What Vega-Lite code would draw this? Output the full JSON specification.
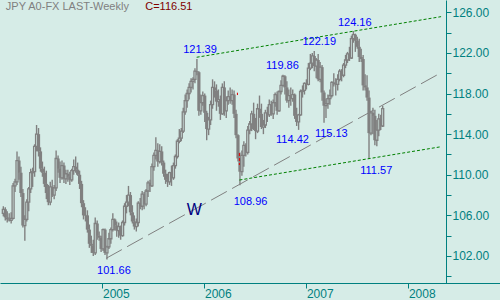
{
"$schema": "https://vega.github.io/schema/vega-lite/v6.json",
"width": 500, "height": 283,
"autosize": {"type": "none"},
"padding": {"left": 0, "top": 0, "right": 0, "bottom": 17},
"background": "#d6ece7",
"config": {"view": {"stroke": null}, "font": "Liberation Sans", "text": {"font": "Liberation Sans"}},
"resolve": {"axis": {"y": "independent"}},
"datasets": {
"ohlc": [
{"d":"2004-01-12","o":106.2,"h":106.9,"l":105.9,"c":106.6},
{"d":"2004-01-19","o":106.6,"h":106.8,"l":105.5,"c":105.8},
{"d":"2004-01-26","o":105.8,"h":106.4,"l":105.3,"c":105.6},
{"d":"2004-02-02","o":105.6,"h":106.2,"l":105.4,"c":105.5},
{"d":"2004-02-09","o":105.5,"h":106.3,"l":105.2,"c":105.7},
{"d":"2004-02-16","o":105.7,"h":109.2,"l":105.6,"c":108.9},
{"d":"2004-02-23","o":108.9,"h":109.6,"l":108.3,"c":109.3},
{"d":"2004-03-01","o":109.3,"h":112.3,"l":109.0,"c":111.4},
{"d":"2004-03-08","o":111.4,"h":111.8,"l":109.5,"c":110.2},
{"d":"2004-03-15","o":110.2,"h":110.8,"l":107.8,"c":108.2},
{"d":"2004-03-22","o":108.2,"h":108.6,"l":104.8,"c":105.0},
{"d":"2004-03-29","o":105.0,"h":106.0,"l":103.5,"c":105.6},
{"d":"2004-04-05","o":105.6,"h":107.6,"l":105.4,"c":107.3},
{"d":"2004-04-12","o":107.3,"h":108.8,"l":106.4,"c":108.6},
{"d":"2004-04-19","o":108.6,"h":110.6,"l":108.2,"c":110.2},
{"d":"2004-04-26","o":110.2,"h":110.7,"l":108.8,"c":110.3},
{"d":"2004-05-03","o":110.3,"h":113.0,"l":109.8,"c":112.8},
{"d":"2004-05-10","o":112.8,"h":114.9,"l":112.3,"c":114.0},
{"d":"2004-05-17","o":114.0,"h":114.6,"l":111.8,"c":112.3},
{"d":"2004-05-24","o":112.3,"h":112.7,"l":110.3,"c":110.6},
{"d":"2004-05-31","o":110.6,"h":111.3,"l":109.8,"c":110.2},
{"d":"2004-06-07","o":110.2,"h":110.8,"l":108.8,"c":109.1},
{"d":"2004-06-14","o":109.1,"h":110.4,"l":107.6,"c":108.2},
{"d":"2004-06-21","o":108.2,"h":109.0,"l":107.0,"c":107.3},
{"d":"2004-06-28","o":107.3,"h":109.3,"l":107.0,"c":108.8},
{"d":"2004-07-05","o":108.8,"h":109.5,"l":107.8,"c":108.0},
{"d":"2004-07-12","o":108.0,"h":109.0,"l":107.6,"c":108.7},
{"d":"2004-07-19","o":108.7,"h":112.4,"l":108.4,"c":111.6},
{"d":"2004-07-26","o":111.6,"h":111.9,"l":110.2,"c":110.6},
{"d":"2004-08-02","o":110.6,"h":111.3,"l":109.2,"c":109.7},
{"d":"2004-08-09","o":109.7,"h":111.4,"l":109.5,"c":110.9},
{"d":"2004-08-16","o":110.9,"h":111.2,"l":109.2,"c":109.6},
{"d":"2004-08-23","o":109.6,"h":110.5,"l":109.1,"c":110.1},
{"d":"2004-08-30","o":110.1,"h":110.5,"l":109.3,"c":109.8},
{"d":"2004-09-06","o":109.8,"h":110.3,"l":109.0,"c":109.5},
{"d":"2004-09-13","o":109.5,"h":110.6,"l":109.3,"c":110.4},
{"d":"2004-09-20","o":110.4,"h":111.5,"l":110.0,"c":110.8},
{"d":"2004-09-27","o":110.8,"h":111.8,"l":110.2,"c":110.5},
{"d":"2004-10-04","o":110.5,"h":111.2,"l":109.9,"c":110.0},
{"d":"2004-10-11","o":110.0,"h":110.4,"l":108.6,"c":109.1},
{"d":"2004-10-18","o":109.1,"h":109.4,"l":106.8,"c":107.2},
{"d":"2004-10-25","o":107.2,"h":107.5,"l":105.6,"c":106.0},
{"d":"2004-11-01","o":106.0,"h":106.8,"l":105.4,"c":106.0},
{"d":"2004-11-08","o":106.0,"h":106.5,"l":104.3,"c":104.6},
{"d":"2004-11-15","o":104.6,"h":105.1,"l":102.8,"c":103.2},
{"d":"2004-11-22","o":103.2,"h":104.0,"l":102.3,"c":103.0},
{"d":"2004-11-29","o":103.0,"h":103.6,"l":102.0,"c":102.3},
{"d":"2004-12-06","o":102.3,"h":105.8,"l":102.1,"c":105.2},
{"d":"2004-12-13","o":105.2,"h":105.5,"l":103.6,"c":104.0},
{"d":"2004-12-20","o":104.0,"h":104.4,"l":103.5,"c":103.8},
{"d":"2004-12-27","o":103.8,"h":104.0,"l":102.4,"c":102.7},
{"d":"2005-01-03","o":102.7,"h":104.7,"l":102.5,"c":104.6},
{"d":"2005-01-10","o":104.6,"h":104.7,"l":102.1,"c":102.3},
{"d":"2005-01-17","o":102.3,"h":103.0,"l":101.66,"c":102.9},
{"d":"2005-01-24","o":102.9,"h":104.3,"l":102.7,"c":103.7},
{"d":"2005-01-31","o":103.7,"h":104.8,"l":103.2,"c":104.6},
{"d":"2005-02-07","o":104.6,"h":106.2,"l":104.4,"c":105.6},
{"d":"2005-02-14","o":105.6,"h":105.7,"l":104.5,"c":105.0},
{"d":"2005-02-21","o":105.0,"h":105.4,"l":103.9,"c":104.5},
{"d":"2005-02-28","o":104.5,"h":105.3,"l":103.8,"c":104.9},
{"d":"2005-03-07","o":104.9,"h":105.0,"l":103.6,"c":104.0},
{"d":"2005-03-14","o":104.0,"h":105.5,"l":103.9,"c":105.3},
{"d":"2005-03-21","o":105.3,"h":107.2,"l":105.0,"c":106.9},
{"d":"2005-03-28","o":106.9,"h":108.0,"l":106.2,"c":107.3},
{"d":"2005-04-04","o":107.3,"h":108.9,"l":106.9,"c":108.0},
{"d":"2005-04-11","o":108.0,"h":108.3,"l":106.0,"c":106.3},
{"d":"2005-04-18","o":106.3,"h":107.0,"l":105.2,"c":105.4},
{"d":"2005-04-25","o":105.4,"h":106.0,"l":104.6,"c":104.9},
{"d":"2005-05-02","o":104.9,"h":105.7,"l":104.4,"c":105.3},
{"d":"2005-05-09","o":105.3,"h":107.4,"l":104.9,"c":107.2},
{"d":"2005-05-16","o":107.2,"h":107.7,"l":106.6,"c":106.9},
{"d":"2005-05-23","o":106.9,"h":108.4,"l":106.5,"c":108.1},
{"d":"2005-05-30","o":108.1,"h":108.3,"l":106.6,"c":107.1},
{"d":"2005-06-06","o":107.1,"h":108.6,"l":106.9,"c":108.4},
{"d":"2005-06-13","o":108.4,"h":109.4,"l":107.8,"c":109.2},
{"d":"2005-06-20","o":109.2,"h":109.5,"l":108.3,"c":108.9},
{"d":"2005-06-27","o":108.9,"h":111.1,"l":108.8,"c":110.8},
{"d":"2005-07-04","o":110.8,"h":112.2,"l":110.4,"c":111.9},
{"d":"2005-07-11","o":111.9,"h":113.7,"l":111.5,"c":112.4},
{"d":"2005-07-18","o":112.4,"h":113.1,"l":110.8,"c":111.3},
{"d":"2005-07-25","o":111.3,"h":113.0,"l":111.1,"c":112.3},
{"d":"2005-08-01","o":112.3,"h":112.8,"l":110.9,"c":111.2},
{"d":"2005-08-08","o":111.2,"h":111.4,"l":109.8,"c":110.1},
{"d":"2005-08-15","o":110.1,"h":110.5,"l":109.1,"c":109.5},
{"d":"2005-08-22","o":109.5,"h":110.1,"l":108.8,"c":109.3},
{"d":"2005-08-29","o":109.3,"h":110.3,"l":109.0,"c":110.2},
{"d":"2005-09-05","o":110.2,"h":110.9,"l":108.9,"c":109.7},
{"d":"2005-09-12","o":109.7,"h":111.2,"l":109.5,"c":110.9},
{"d":"2005-09-19","o":110.9,"h":112.0,"l":110.6,"c":111.8},
{"d":"2005-09-26","o":111.8,"h":113.5,"l":111.6,"c":113.3},
{"d":"2005-10-03","o":113.3,"h":114.5,"l":113.1,"c":113.6},
{"d":"2005-10-10","o":113.6,"h":114.6,"l":113.3,"c":114.3},
{"d":"2005-10-17","o":114.3,"h":116.6,"l":114.1,"c":116.2},
{"d":"2005-10-24","o":116.2,"h":117.9,"l":115.9,"c":117.3},
{"d":"2005-10-31","o":117.3,"h":118.4,"l":116.6,"c":118.0},
{"d":"2005-11-07","o":118.0,"h":119.0,"l":117.4,"c":118.6},
{"d":"2005-11-14","o":118.6,"h":119.5,"l":118.1,"c":119.2},
{"d":"2005-11-21","o":119.2,"h":119.6,"l":118.4,"c":119.4},
{"d":"2005-11-28","o":119.4,"h":120.5,"l":119.0,"c":120.2},
{"d":"2005-12-05","o":120.2,"h":121.39,"l":119.8,"c":120.1},
{"d":"2005-12-12","o":120.1,"h":120.2,"l":115.8,"c":116.3},
{"d":"2005-12-19","o":116.3,"h":117.9,"l":115.9,"c":117.1},
{"d":"2005-12-26","o":117.1,"h":118.2,"l":116.8,"c":117.8},
{"d":"2006-01-02","o":117.8,"h":118.0,"l":115.2,"c":116.1},
{"d":"2006-01-09","o":116.1,"h":116.3,"l":113.4,"c":114.5},
{"d":"2006-01-16","o":114.5,"h":115.7,"l":113.9,"c":115.4},
{"d":"2006-01-23","o":115.4,"h":117.3,"l":114.9,"c":116.9},
{"d":"2006-01-30","o":116.9,"h":119.4,"l":116.5,"c":118.6},
{"d":"2006-02-06","o":118.6,"h":119.2,"l":117.6,"c":118.3},
{"d":"2006-02-13","o":118.3,"h":118.9,"l":116.3,"c":117.2},
{"d":"2006-02-20","o":117.2,"h":118.4,"l":116.7,"c":117.4},
{"d":"2006-02-27","o":117.4,"h":117.8,"l":115.4,"c":116.0},
{"d":"2006-03-06","o":116.0,"h":119.0,"l":115.9,"c":118.6},
{"d":"2006-03-13","o":118.6,"h":119.2,"l":115.8,"c":116.3},
{"d":"2006-03-20","o":116.3,"h":117.7,"l":115.6,"c":117.3},
{"d":"2006-03-27","o":117.3,"h":118.3,"l":116.9,"c":117.7},
{"d":"2006-04-03","o":117.7,"h":118.6,"l":117.0,"c":117.3},
{"d":"2006-04-10","o":117.3,"h":118.4,"l":116.9,"c":117.9},
{"d":"2006-04-17","o":117.9,"h":118.3,"l":115.6,"c":116.0},
{"d":"2006-04-24","o":116.0,"h":116.4,"l":113.6,"c":113.9},
{"d":"2006-05-01","o":113.9,"h":114.0,"l":111.3,"c":111.6},
{"d":"2006-05-08","o":111.6,"h":112.2,"l":108.96,"c":110.3},
{"d":"2006-05-15","o":110.3,"h":112.4,"l":109.9,"c":111.9},
{"d":"2006-05-22","o":111.9,"h":113.3,"l":110.8,"c":112.9},
{"d":"2006-05-29","o":112.9,"h":113.1,"l":111.8,"c":112.2},
{"d":"2006-06-05","o":112.2,"h":114.8,"l":112.0,"c":114.4},
{"d":"2006-06-12","o":114.4,"h":115.3,"l":114.0,"c":115.0},
{"d":"2006-06-19","o":115.0,"h":116.3,"l":114.3,"c":116.0},
{"d":"2006-06-26","o":116.0,"h":117.1,"l":114.4,"c":114.5},
{"d":"2006-07-03","o":114.5,"h":115.6,"l":113.5,"c":114.3},
{"d":"2006-07-10","o":114.3,"h":117.0,"l":114.1,"c":116.5},
{"d":"2006-07-17","o":116.5,"h":117.8,"l":115.6,"c":116.0},
{"d":"2006-07-24","o":116.0,"h":117.0,"l":114.5,"c":114.7},
{"d":"2006-07-31","o":114.7,"h":115.4,"l":114.0,"c":114.9},
{"d":"2006-08-07","o":114.9,"h":116.4,"l":114.6,"c":116.1},
{"d":"2006-08-14","o":116.1,"h":116.7,"l":115.2,"c":115.9},
{"d":"2006-08-21","o":115.9,"h":117.4,"l":115.7,"c":116.9},
{"d":"2006-08-28","o":116.9,"h":117.3,"l":115.8,"c":116.0},
{"d":"2006-09-04","o":116.0,"h":117.4,"l":115.5,"c":117.1},
{"d":"2006-09-11","o":117.1,"h":118.1,"l":116.7,"c":117.9},
{"d":"2006-09-18","o":117.9,"h":118.2,"l":115.9,"c":116.3},
{"d":"2006-09-25","o":116.3,"h":118.3,"l":116.2,"c":118.2},
{"d":"2006-10-02","o":118.2,"h":119.3,"l":117.9,"c":118.8},
{"d":"2006-10-09","o":118.8,"h":119.86,"l":118.7,"c":119.7},
{"d":"2006-10-16","o":119.7,"h":119.8,"l":117.9,"c":118.6},
{"d":"2006-10-23","o":118.6,"h":119.2,"l":117.1,"c":117.3},
{"d":"2006-10-30","o":117.3,"h":118.4,"l":116.6,"c":117.8},
{"d":"2006-11-06","o":117.8,"h":118.6,"l":116.8,"c":117.5},
{"d":"2006-11-13","o":117.5,"h":118.4,"l":117.2,"c":117.9},
{"d":"2006-11-20","o":117.9,"h":118.0,"l":115.5,"c":115.8},
{"d":"2006-11-27","o":115.8,"h":116.6,"l":114.8,"c":115.2},
{"d":"2006-12-04","o":115.2,"h":116.0,"l":114.42,"c":115.9},
{"d":"2006-12-11","o":115.9,"h":118.4,"l":115.8,"c":118.2},
{"d":"2006-12-18","o":118.2,"h":118.8,"l":117.6,"c":118.3},
{"d":"2006-12-25","o":118.3,"h":119.1,"l":117.9,"c":119.0},
{"d":"2007-01-01","o":119.0,"h":119.4,"l":118.4,"c":118.9},
{"d":"2007-01-08","o":118.9,"h":121.0,"l":118.8,"c":120.5},
{"d":"2007-01-15","o":120.5,"h":121.9,"l":120.3,"c":121.0},
{"d":"2007-01-22","o":121.0,"h":122.0,"l":120.5,"c":121.7},
{"d":"2007-01-29","o":121.7,"h":122.19,"l":120.2,"c":120.7},
{"d":"2007-02-05","o":120.7,"h":121.5,"l":119.5,"c":121.3},
{"d":"2007-02-12","o":121.3,"h":121.9,"l":119.2,"c":119.4},
{"d":"2007-02-19","o":119.4,"h":121.1,"l":119.1,"c":120.6},
{"d":"2007-02-26","o":120.6,"h":120.8,"l":117.3,"c":118.1},
{"d":"2007-03-05","o":118.1,"h":118.3,"l":115.13,"c":116.8},
{"d":"2007-03-12","o":116.8,"h":117.5,"l":115.6,"c":117.0},
{"d":"2007-03-19","o":117.0,"h":117.9,"l":116.5,"c":117.5},
{"d":"2007-03-26","o":117.5,"h":118.4,"l":116.9,"c":117.8},
{"d":"2007-04-02","o":117.8,"h":119.2,"l":117.6,"c":119.1},
{"d":"2007-04-09","o":119.1,"h":120.0,"l":118.7,"c":118.9},
{"d":"2007-04-16","o":118.9,"h":119.5,"l":117.8,"c":118.9},
{"d":"2007-04-23","o":118.9,"h":119.9,"l":118.3,"c":119.4},
{"d":"2007-04-30","o":119.4,"h":120.4,"l":119.2,"c":120.2},
{"d":"2007-05-07","o":120.2,"h":120.4,"l":119.2,"c":119.8},
{"d":"2007-05-14","o":119.8,"h":121.0,"l":119.6,"c":120.8},
{"d":"2007-05-21","o":120.8,"h":121.8,"l":120.5,"c":121.3},
{"d":"2007-05-28","o":121.3,"h":122.1,"l":121.0,"c":121.9},
{"d":"2007-06-04","o":121.9,"h":122.6,"l":121.2,"c":121.5},
{"d":"2007-06-11","o":121.5,"h":123.7,"l":121.4,"c":123.4},
{"d":"2007-06-18","o":123.4,"h":124.16,"l":123.0,"c":123.8},
{"d":"2007-06-25","o":123.8,"h":123.9,"l":122.1,"c":123.2},
{"d":"2007-07-02","o":123.2,"h":123.6,"l":122.4,"c":122.6},
{"d":"2007-07-09","o":122.6,"h":123.4,"l":121.1,"c":121.6},
{"d":"2007-07-16","o":121.6,"h":122.4,"l":121.1,"c":121.4},
{"d":"2007-07-23","o":121.4,"h":121.8,"l":118.3,"c":118.8},
{"d":"2007-07-30","o":118.8,"h":119.9,"l":118.3,"c":118.6},
{"d":"2007-08-06","o":118.6,"h":119.8,"l":117.3,"c":117.6},
{"d":"2007-08-13","o":117.6,"h":118.3,"l":111.57,"c":114.1},
{"d":"2007-08-20","o":114.1,"h":116.3,"l":113.9,"c":116.1},
{"d":"2007-08-27","o":116.1,"h":116.6,"l":114.0,"c":115.8},
{"d":"2007-09-03","o":115.8,"h":116.4,"l":112.9,"c":113.4},
{"d":"2007-09-10","o":113.4,"h":115.4,"l":112.8,"c":114.4},
{"d":"2007-09-17","o":114.4,"h":116.0,"l":113.8,"c":115.5},
{"d":"2007-09-24","o":115.5,"h":115.9,"l":114.4,"c":114.8},
{"d":"2007-10-01","o":114.8,"h":116.8,"l":114.7,"c":116.51}
],
"green": [
{"id":"upper","d":"2005-12-04","v":121.57},{"id":"upper","d":"2008-04-27","v":125.57},
{"id":"lower","d":"2006-05-06","v":109.48},{"id":"lower","d":"2008-04-27","v":112.76}
],
"wline": [
{"d":"2005-01-14","v":101.77},{"d":"2008-04-27","v":120.05}
],
"red": [
{"d":"2006-04-29","a":118.08,"b":117.85},{"d":"2006-05-06","a":112.14,"b":110.96}
],
"labels": [
{"t":"121.39","d":"2005-12-16","v":121.96},
{"t":"122.19","d":"2007-02-16","v":122.78},
{"t":"124.16","d":"2007-06-23","v":124.65},
{"t":"119.86","d":"2006-10-07","v":120.42},
{"t":"114.42","d":"2006-11-12","v":113.16},
{"t":"115.13","d":"2007-03-31","v":113.69},
{"t":"111.57","d":"2007-09-08","v":110.08},
{"t":"108.96","d":"2006-06-15","v":107.02},
{"t":"101.66","d":"2005-02-11","v":100.23}
],
"wave": [{"t":"W","d":"2005-11-26","v":106.04}],
"head1": [{"t":"JPY A0-FX LAST-Weekly","d":"2004-01-21","v":126.2}],
"head2": [{"t":"C=116.51","d":"2005-06-03","v":126.2}]
},
"layer": [
{
"data": {"name": "ohlc"},
"mark": {"type": "rule", "color": "#808080", "strokeWidth": 1.4},
"encoding": {
"x": {"field": "d", "type": "temporal", "title": null,
"scale": {"domain": [{"year": 2004, "month": 1, "date": 18}, {"year": 2008, "month": 11, "date": 6}]},
"axis": {"values": [{"year": 2005, "month": 1, "date": 1}, {"year": 2006, "month": 1, "date": 1}, {"year": 2007, "month": 1, "date": 1}, {"year": 2008, "month": 1, "date": 1}],
"format": "%Y", "labelAlign": "left", "labelBaseline": "top", "labelFlush": false, "labelOverlap": false,
"labelPadding": 0, "labelOffset": 0, "tickSize": 5, "grid": false, "orient": "bottom",
"domainColor": "#008080", "tickColor": "#008080", "labelColor": "#008080",
"labelFont": "Liberation Sans", "labelFontSize": 12, "domainWidth": 1, "tickWidth": 1}},
"y": {"field": "l", "type": "quantitative", "title": null,
"scale": {"domain": [99.34, 127.21], "nice": false, "zero": false},
"axis": {"orient": "right", "offset": -54, "values": [102, 106, 110, 114, 118, 122, 126],
"format": ".2f", "labels": true,
"labelOverlap": false, "labelFlush": false, "labelPadding": 1, "tickSize": 5, "grid": false,
"domainColor": "#008080", "tickColor": "#008080", "labelColor": "#008080",
"labelFont": "Liberation Sans", "labelFontSize": 12, "domainWidth": 1, "tickWidth": 1}},
"y2": {"field": "h"}
}
},
{
"data": {"name": "ohlc"},
"transform": [{"filter": "datum.c < datum.o"}],
"mark": {"type": "bar", "color": "#808080", "size": 3.2},
"encoding": {
"x": {"field": "d", "type": "temporal", "title": null},
"y": {"field": "o", "type": "quantitative", "title": null,
"axis": {"orient": "right", "offset": -54, "values": [100, 104, 108, 112, 116, 120, 124],
"labels": false, "domain": false, "grid": false, "tickSize": 5, "tickColor": "#008080", "tickWidth": 1}},
"y2": {"field": "c"}
}
},
{
"data": {"name": "ohlc"},
"transform": [{"filter": "datum.c >= datum.o"}],
"mark": {"type": "bar", "fill": "#d6ece7", "stroke": "#808080", "strokeWidth": 1.3, "size": 2},
"encoding": {
"x": {"field": "d", "type": "temporal", "title": null},
"y": {"field": "o", "type": "quantitative", "axis": null},
"y2": {"field": "c"}
}
},
{
"data": {"name": "wline"},
"mark": {"type": "line", "color": "#808080", "strokeWidth": 1, "strokeDash": [18, 6]},
"encoding": {
"x": {"field": "d", "type": "temporal", "title": null},
"y": {"field": "v", "type": "quantitative", "axis": null}
}
},
{
"data": {"name": "green"},
"mark": {"type": "line", "color": "#008000", "strokeWidth": 1, "strokeDash": [3, 2]},
"encoding": {
"x": {"field": "d", "type": "temporal", "title": null},
"y": {"field": "v", "type": "quantitative", "axis": null},
"detail": {"field": "id"}
}
},
{
"data": {"name": "red"},
"mark": {"type": "rule", "color": "#e00000", "strokeWidth": 1, "strokeDash": [3, 2]},
"encoding": {
"x": {"field": "d", "type": "temporal", "title": null},
"y": {"field": "a", "type": "quantitative", "axis": null},
"y2": {"field": "b"}
}
},
{
"data": {"name": "labels"},
"mark": {"type": "text", "color": "#0000ff", "fontSize": 11, "align": "center", "baseline": "alphabetic", "font": "Liberation Sans"},
"encoding": {
"x": {"field": "d", "type": "temporal", "title": null},
"y": {"field": "v", "type": "quantitative", "axis": null},
"text": {"field": "t"}
}
},
{
"data": {"name": "wave"},
"mark": {"type": "text", "color": "#000080", "fontSize": 16, "align": "center", "baseline": "alphabetic", "font": "Liberation Sans"},
"encoding": {
"x": {"field": "d", "type": "temporal", "title": null},
"y": {"field": "v", "type": "quantitative", "axis": null},
"text": {"field": "t"}
}
},
{
"data": {"name": "head1"},
"mark": {"type": "text", "color": "#808080", "fontSize": 11, "align": "left", "baseline": "alphabetic", "font": "Liberation Sans"},
"encoding": {
"x": {"field": "d", "type": "temporal", "title": null},
"y": {"field": "v", "type": "quantitative", "axis": null},
"text": {"field": "t"}
}
},
{
"data": {"name": "head2"},
"mark": {"type": "text", "color": "#800000", "fontSize": 11, "align": "left", "baseline": "alphabetic", "font": "Liberation Sans"},
"encoding": {
"x": {"field": "d", "type": "temporal", "title": null},
"y": {"field": "v", "type": "quantitative", "axis": null},
"text": {"field": "t"}
}
}
]
}
